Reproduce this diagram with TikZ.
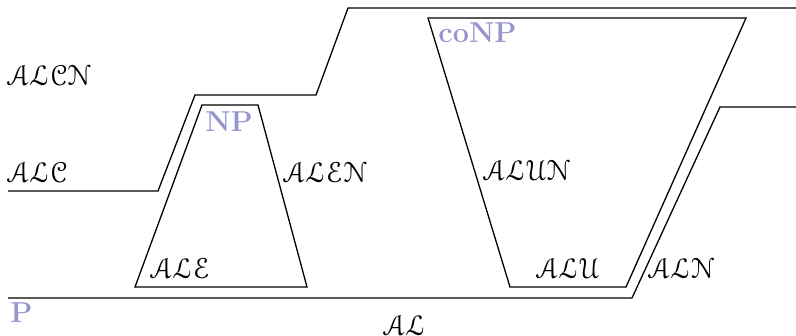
\documentclass[tikz,border=0pt]{standalone}
\usepackage{amsmath}
\usepackage[mathcal]{eucal}
\usepackage{xcolor}
\usetikzlibrary{positioning}
\definecolor{lila}{RGB}{150,150,205}

\begin{document}
\begin{tikzpicture}[x=0.5pt, y=-0.5pt,
		every node/.style={text=black, inner sep=0pt, anchor=west, font=\Large},
		logica/.style={},
		clase/.style={text=lila, font=\Large\bfseries},
		borde/.style={line width=0.65pt, line join=miter}
		]
		\useasboundingbox (0,0) rectangle (796,336);
		
		% escalones de complejidad
		\draw[borde] (8,191) -- (158,191) -- (195,95) -- (316,95) -- (348,8) -- (796,8);
		\draw[borde] (8,298) -- (632,298) -- (720,107) -- (796,107);
		
		% region NP
		\draw[borde] (135,287) -- (202,105) -- (258,105) -- (307,287) -- cycle;
		
		% region coNP
		\draw[borde] (428,18) -- (746,18) -- (626,287) -- (510,287) -- cycle;
		
		% clases
		\node[clase] (p) at (10,313) {P};
		\node[clase] (np) at (205,122) {NP};
		\node[clase] (conp) at (438,33) {coNP};
		
		% logicas
		\node[logica] (alcn) at (7,75) {$\mathcal{ALCN}$};
		\node[logica] (alc) at (7,172) {$\mathcal{ALC}$};
		\node[logica] (alen) at (283,172) {$\mathcal{ALEN}$};
		\node[logica] (ale) at (150,268) {$\mathcal{ALE}$};
		\node[logica] (al) at (383,325) {$\mathcal{AL}$};
		\node[logica] (alun) at (483,170) {$\mathcal{ALUN}$};
		\node[logica] (alu) at (536,268) {$\mathcal{ALU}$};
		\node[logica] (aln) at (648,268) {$\mathcal{ALN}$};
		
	\end{tikzpicture}
\end{document}
